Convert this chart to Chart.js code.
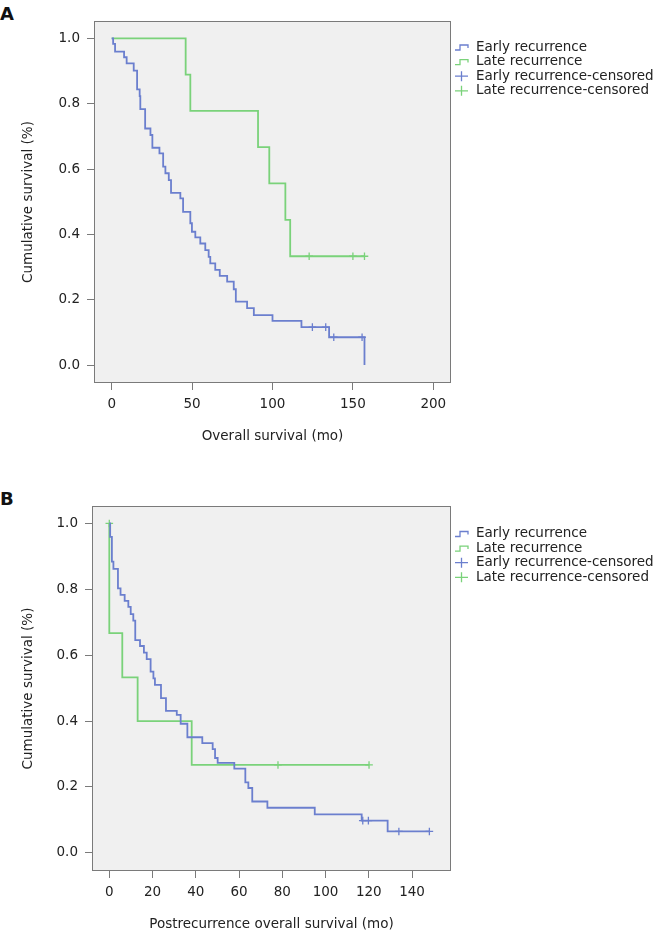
<!DOCTYPE html>
<html>
<head>
<meta charset="utf-8">
<script src="https://cdn.jsdelivr.net/npm/chart.js@4.4.1/dist/chart.umd.min.js"></script>
<style>
  html, body { margin: 0; padding: 0; background: #fff; }
  body { width: 662px; height: 936px; position: relative; overflow: hidden; }
  canvas { position: absolute; left: 0; }
  #chartA { top: 0; }
  #chartB { top: 470px; }
  .panel { position: absolute; left: 0; font: bold 18px "DejaVu Sans", sans-serif; line-height: 18px; color: #111; }
</style>
</head>
<body>
<div class="panel" style="top:5px">A</div>
<div class="panel" style="top:490px">B</div>
<canvas id="chartA" width="662" height="460"></canvas>
<canvas id="chartB" width="662" height="466"></canvas>
<script>
"use strict";

// ---- panel A: overall survival ----
const A_EARLY_T = [0, 0.9, 2.1, 7.7, 9.3, 13.7, 15.8, 17.4, 17.8, 20.8, 24.1, 25.3, 29.7, 32, 33.4, 35.5, 36.9, 42.7, 44.4, 48.9, 49.9, 52, 55.1, 58.2, 60.3, 61.3, 64.4, 67.2, 71.8, 75.9, 77.2, 84.2, 88.4, 100, 118, 135.2, 155.7, 157.2];
const A_EARLY_S = [1.0, 0.983, 0.959, 0.942, 0.923, 0.901, 0.844, 0.823, 0.783, 0.724, 0.704, 0.665, 0.648, 0.607, 0.587, 0.566, 0.527, 0.51, 0.469, 0.434, 0.408, 0.391, 0.372, 0.352, 0.331, 0.311, 0.291, 0.273, 0.255, 0.232, 0.194, 0.174, 0.153, 0.135, 0.116, 0.085, 0.085, 0];
const A_EARLY_CENS_T = [124.8, 133.1, 138.1, 155.7];
const A_EARLY_CENS_S = [0.116, 0.116, 0.085, 0.085];
const A_LATE_T = [0, 46, 48.9, 91, 98, 108, 111, 157.2];
const A_LATE_S = [1.0, 0.889, 0.778, 0.667, 0.556, 0.444, 0.333, 0.333];
const A_LATE_CENS_T = [122.8, 150, 157.2];
const A_LATE_CENS_S = [0.333, 0.333, 0.333];
const A_X_TICKS = [0, 50, 100, 150, 200];

// ---- panel B: postrecurrence overall survival ----
const B_EARLY_T = [0, 0.4, 1.2, 1.9, 4.0, 5.2, 7.1, 8.8, 9.9, 11.1, 12.0, 14.2, 16.0, 17.3, 19.1, 20.4, 21.1, 23.9, 26.2, 31.2, 33, 36.1, 43, 47.8, 48.9, 50.1, 57.8, 62.9, 64.3, 66.1, 73.1, 95, 116.7, 128.7, 148];
const B_EARLY_S = [1.0, 0.959, 0.884, 0.862, 0.803, 0.783, 0.765, 0.747, 0.725, 0.705, 0.646, 0.628, 0.608, 0.588, 0.55, 0.53, 0.51, 0.47, 0.431, 0.419, 0.392, 0.351, 0.333, 0.315, 0.288, 0.273, 0.256, 0.214, 0.197, 0.156, 0.137, 0.117, 0.098, 0.065, 0.065];
const B_EARLY_CENS_T = [117.2, 119.8, 133.9, 148];
const B_EARLY_CENS_S = [0.098, 0.098, 0.065, 0.065];
const B_LATE_T = [0, 0, 6, 13.1, 38.1, 120.1];
const B_LATE_S = [1.0, 0.667, 0.533, 0.4, 0.267, 0.267];
const B_LATE_CENS_T = [0, 78, 120.1];
const B_LATE_CENS_S = [1.0, 0.267, 0.267];
const B_X_TICKS = [0, 20, 40, 60, 80, 100, 120, 140];

const Y_TICKS = [0, 0.2, 0.4, 0.6, 0.8, 1.0];
const LEGEND_LABELS = ["Early recurrence", "Late recurrence", "Early recurrence-censored", "Late recurrence-censored"];

const FONT = '"DejaVu Sans", Verdana, sans-serif';
const FONT_SIZE = 13.5;
const TEXT = "#222";
const AXIS = "#7a7a7a";
const BLUE = "#6b7fce";
const GREEN = "#7ad27a";

const pts = (ts, ss) => ts.map((t, i) => ({ x: t, y: ss[i] }));

function lineDs(ts, ss, color) {
  return {
    data: pts(ts, ss),
    borderColor: color,
    borderWidth: 1.8,
    stepped: "before",
    pointRadius: 0,
    fill: false,
  };
}

function censDs(ts, ss, color) {
  return {
    data: pts(ts, ss),
    showLine: false,
    pointStyle: "cross",
    pointRadius: 3.8,
    pointBorderColor: color,
    pointBorderWidth: 1.3,
  };
}

const framePlugin = {
  id: "frame",
  beforeDraw(chart) {
    const { ctx, chartArea: a } = chart;
    ctx.save();
    ctx.fillStyle = "#f0f0f0";
    ctx.fillRect(a.left, a.top, a.right - a.left, a.bottom - a.top);
    ctx.strokeStyle = AXIS;
    ctx.lineWidth = 1;
    ctx.strokeRect(a.left + 0.5, a.top + 0.5, a.right - a.left - 1, a.bottom - a.top - 1);
    ctx.restore();
  },
};

const legendPlugin = {
  id: "kmLegend",
  afterDraw(chart, args, opts) {
    const ctx = chart.ctx;
    const x0 = chart.chartArea.right + 4;
    ctx.save();
    ctx.font = `${FONT_SIZE}px ${FONT}`;
    ctx.textBaseline = "middle";
    LEGEND_LABELS.forEach((label, i) => {
      const y = opts.y + i * 14.6;
      ctx.strokeStyle = i % 2 === 0 ? BLUE : GREEN;
      ctx.lineWidth = 1.3;
      ctx.beginPath();
      if (i < 2) {
        ctx.moveTo(x0, y + 3);
        ctx.lineTo(x0 + 5, y + 3);
        ctx.lineTo(x0 + 5, y - 2);
        ctx.lineTo(x0 + 13, y - 2);
        ctx.lineTo(x0 + 13, y + 1);
      } else {
        ctx.moveTo(x0, y);
        ctx.lineTo(x0 + 13, y);
        ctx.moveTo(x0 + 6.5, y - 5);
        ctx.lineTo(x0 + 6.5, y + 5);
      }
      ctx.stroke();
      ctx.fillStyle = TEXT;
      ctx.fillText(label, x0 + 21, y);
    });
    ctx.restore();
  },
};

function kmChart(id, o) {
  const tickFont = { family: FONT, size: FONT_SIZE };
  return new Chart(document.getElementById(id), {
    type: "line",
    plugins: [framePlugin, legendPlugin],
    data: {
      datasets: [
        lineDs(o.earlyT, o.earlyS, BLUE),
        lineDs(o.lateT, o.lateS, GREEN),
        censDs(o.earlyCensT, o.earlyCensS, BLUE),
        censDs(o.lateCensT, o.lateCensS, GREEN),
      ],
    },
    options: {
      responsive: false,
      animation: false,
      devicePixelRatio: 1,
      layout: { padding: { top: o.top, right: 211, bottom: 0, left: 0 } },
      plugins: {
        legend: { display: false },
        tooltip: { enabled: false },
        kmLegend: { y: o.legendY },
      },
      scales: {
        x: {
          type: "linear",
          min: o.xMin,
          max: o.xMax,
          afterBuildTicks: (s) => { s.ticks = o.xTicks.map((v) => ({ value: v })); },
          afterFit: (s) => { s.height = o.xAxisH; },
          grid: { drawOnChartArea: false, drawTicks: true, tickLength: 7, color: AXIS },
          border: { display: false },
          ticks: { color: TEXT, font: tickFont, padding: 6, maxRotation: 0, callback: (v) => String(v) },
          title: { display: true, text: o.xTitle, color: TEXT, font: tickFont, padding: { top: 0, bottom: o.xTitlePad } },
        },
        y: {
          min: -0.055,
          max: 1.053,
          afterBuildTicks: (s) => { s.ticks = Y_TICKS.map((v) => ({ value: v })); },
          afterFit: (s) => { s.width = o.yAxisW; },
          grid: { drawOnChartArea: false, drawTicks: true, tickLength: 7, color: AXIS },
          border: { display: false },
          ticks: { color: TEXT, font: tickFont, padding: 7, callback: (v) => v.toFixed(1) },
          title: { display: true, text: "Cumulative survival (%)", color: TEXT, font: tickFont, padding: { top: 20, bottom: 0 } },
        },
      },
    },
  });
}

kmChart("chartA", {
  earlyT: A_EARLY_T, earlyS: A_EARLY_S,
  lateT: A_LATE_T, lateS: A_LATE_S,
  earlyCensT: A_EARLY_CENS_T, earlyCensS: A_EARLY_CENS_S,
  lateCensT: A_LATE_CENS_T, lateCensS: A_LATE_CENS_S,
  xTicks: A_X_TICKS, xMin: -11, xMax: 211,
  xTitle: "Overall survival (mo)",
  top: 21, xAxisH: 77, yAxisW: 94, xTitlePad: 15, legendY: 47,
});

kmChart("chartB", {
  earlyT: B_EARLY_T, earlyS: B_EARLY_S,
  lateT: B_LATE_T, lateS: B_LATE_S,
  earlyCensT: B_EARLY_CENS_T, earlyCensS: B_EARLY_CENS_S,
  lateCensT: B_LATE_CENS_T, lateCensS: B_LATE_CENS_S,
  xTicks: B_X_TICKS, xMin: -8, xMax: 158,
  xTitle: "Postrecurrence overall survival (mo)",
  top: 36, xAxisH: 65, yAxisW: 92, xTitlePad: 3, legendY: 63.5,
});
</script>
</body>
</html>
